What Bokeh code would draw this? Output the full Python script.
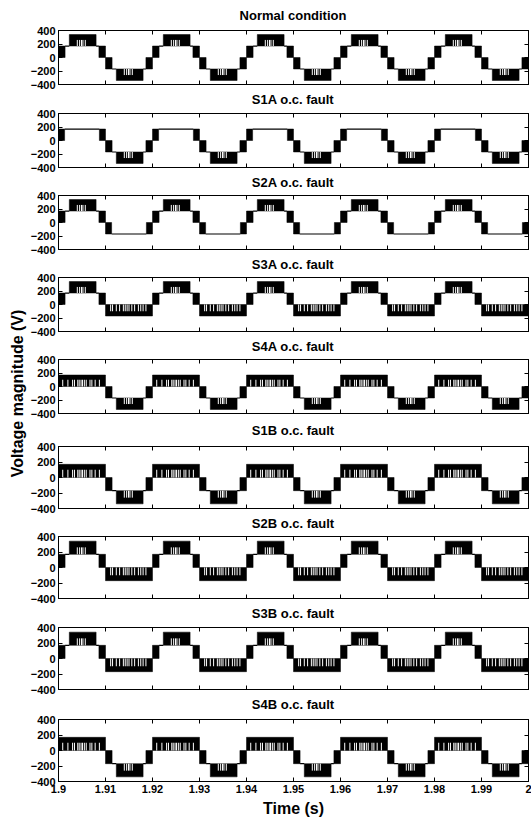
import math
from bokeh.plotting import figure
from bokeh.layouts import column, row
from bokeh.models import Range1d, FixedTicker, LinearAxis, CustomJSTickFormatter, ColumnDataSource
from bokeh.core.properties import value
from bokeh.embed import file_html
from bokeh.resources import INLINE

# ---------------- data ----------------
panel_titles = ["Normal condition", "S1A o.c. fault", "S2A o.c. fault", "S3A o.c. fault",
                "S4A o.c. fault", "S1B o.c. fault", "S2B o.c. fault", "S3B o.c. fault",
                "S4B o.c. fault"]
# shape of the positive / negative half cycle in each panel
pos_half = ["full", "clamp", "full", "full", "low", "low", "full", "full", "low"]
neg_half = ["full", "full", "clamp", "low", "full", "full", "low", "low", "full"]

x_ticks = [1.9, 1.91, 1.92, 1.93, 1.94, 1.95, 1.96, 1.97, 1.98, 1.99, 2.0]
y_ticks = [-400, -200, 0, 200, 400]

t_start = 1.9          # s
period_ms = 20.0       # 50 Hz fundamental
n_periods = 5

# one-period patterns (times in ms inside the period)
# switching bands: (start, end, low level, high level)
pos_full_bands = [(0.0, 1.4, 0, 170), (2.3, 8.0, 170, 340), (8.6, 10.0, 0, 170)]
pos_full_flats = [(1.4, 2.3, 170), (8.0, 8.6, 170)]          # (start, end, level)
pos_full_gap_t = [4.0, 4.5, 4.9, 5.2, 5.7]
pos_full_gap_lv = (170, 260)

neg_full_bands = [(10.0, 11.4, -170, 0), (12.3, 18.0, -340, -170), (18.6, 20.0, -170, 0)]
neg_full_flats = [(11.4, 12.3, -170), (18.0, 18.6, -170)]
neg_full_gap_t = [14.0, 14.5, 14.9, 15.2, 15.7]
neg_full_gap_lv = (-170, -260)

pos_clamp_bands = [(0.0, 1.3, 0, 170), (8.7, 10.0, 0, 170)]
pos_clamp_flats = [(1.3, 8.7, 170)]
pos_clamp_gap_t = []
pos_clamp_gap_lv = (170, 170)

neg_clamp_bands = [(10.0, 11.3, -170, 0), (18.7, 20.0, -170, 0)]
neg_clamp_flats = [(11.3, 18.7, -170)]
neg_clamp_gap_t = []
neg_clamp_gap_lv = (-170, -170)

pos_low_bands = [(0.0, 10.0, 0, 170)]
pos_low_flats = []
pos_low_gap_t = [0.9, 2.0, 3.0, 3.4, 4.1, 4.4, 4.8, 5.1, 5.5, 5.9, 6.7, 7.1, 7.8, 8.7]
pos_low_gap_lv = (0, 100)

neg_low_bands = [(10.0, 20.0, -170, 0)]
neg_low_flats = []
neg_low_gap_t = [11.1, 11.5, 12.3, 13.0, 13.8, 14.2, 14.6, 15.0, 15.6, 16.2, 17.0, 17.5, 18.0, 18.6]
neg_low_gap_lv = (0, -100)

ylabel_text = "Voltage magnitude (V)"
xlabel_text = "Time (s)"

patterns = {
    ("pos", "full"): (pos_full_bands, pos_full_flats, pos_full_gap_t, pos_full_gap_lv),
    ("neg", "full"): (neg_full_bands, neg_full_flats, neg_full_gap_t, neg_full_gap_lv),
    ("pos", "clamp"): (pos_clamp_bands, pos_clamp_flats, pos_clamp_gap_t, pos_clamp_gap_lv),
    ("neg", "clamp"): (neg_clamp_bands, neg_clamp_flats, neg_clamp_gap_t, neg_clamp_gap_lv),
    ("pos", "low"): (pos_low_bands, pos_low_flats, pos_low_gap_t, pos_low_gap_lv),
    ("neg", "low"): (neg_low_bands, neg_low_flats, neg_low_gap_t, neg_low_gap_lv),
}


def panel_sources(ptype, ntype):
    q = dict(left=[], right=[], bottom=[], top=[])
    f = dict(x0=[], x1=[], y=[])
    g = dict(x=[], y0=[], y1=[])
    for k in range(n_periods):
        t0 = t_start + k * period_ms / 1000.0
        for half in (("pos", ptype), ("neg", ntype)):
            bands, flats, gap_t, gap_lv = patterns[half]
            for (s, e, lo, hi) in bands:
                q["left"].append(t0 + s / 1000.0)
                q["right"].append(t0 + e / 1000.0)
                q["bottom"].append(lo)
                q["top"].append(hi)
            for (s, e, lv) in flats:
                f["x0"].append(t0 + s / 1000.0)
                f["x1"].append(t0 + e / 1000.0)
                f["y"].append(lv)
            for t in gap_t:
                g["x"].append(t0 + t / 1000.0)
                g["y0"].append(gap_lv[0])
                g["y1"].append(gap_lv[1])
    return ColumnDataSource(q), ColumnDataSource(f), ColumnDataSource(g)


# ---------------- layout (page pixels, page has no margin) ----------------
FONT = "Liberation Sans"
frame_tops = [30, 113, 195, 277, 359, 446, 536, 627, 719]
frame_hs = [54, 54, 54, 54, 54, 62, 62, 62, 62]
title_centers = [15, 98, 181, 263, 345, 430, 521, 611, 703]
page_h = 822
frame_w = 470
left_border = 30
right_border = 3
ylab_w = 27
ylab_center = (17, 393)
pad_top = 6
pad_bottom = 7
fig_w = left_border + frame_w + right_border


def style_axis(ax, labels):
    ax.axis_line_color = "black"
    ax.axis_line_width = 1
    ax.major_tick_in = 4
    ax.major_tick_out = 0
    ax.major_tick_line_color = "black"
    ax.minor_tick_line_color = None
    if labels:
        ax.major_label_text_font = FONT
        ax.major_label_text_font_style = "bold"
        ax.major_label_text_font_size = "11px"
        ax.major_label_text_color = "black"
        ax.major_label_standoff = 3
    else:
        ax.major_label_text_font_size = "0px"
        ax.major_label_text_color = None
        ax.major_label_standoff = 0


def plain(p):
    p.axis.visible = False
    p.xgrid.visible = False
    p.ygrid.visible = False
    p.outline_line_color = None
    p.background_fill_color = "white"
    p.border_fill_color = "white"


items = []
prev_bottom = 0
for i, title in enumerate(panel_titles):
    last = (i == len(panel_titles) - 1)
    canvas_top = frame_tops[i] - pad_top
    frame_bottom = frame_tops[i] + frame_hs[i]
    bot_b = (page_h - frame_bottom) if last else pad_bottom

    # title strip
    t_top, t_bot = prev_bottom, canvas_top
    half = 7.5
    if t_bot - t_top >= 2 * half:
        cy = min(max(title_centers[i], t_top + half), t_bot - half)
    else:
        cy = (t_top + t_bot) / 2
    tf = figure(width=fig_w, height=t_bot - t_top,
                x_range=Range1d(x_ticks[0], x_ticks[-1]), y_range=Range1d(t_bot, t_top),
                output_backend="svg", toolbar_location=None,
                min_border_left=left_border, min_border_right=right_border,
                min_border_top=0, min_border_bottom=0)
    plain(tf)
    tf.text(x=[(x_ticks[0] + x_ticks[-1]) / 2], y=[cy], text=[title],
            text_align="center", text_baseline="middle",
            text_font=value(FONT), text_font_style="bold", text_font_size="13px",
            text_color="black")
    items.append(tf)

    # panel
    p = figure(frame_width=frame_w, frame_height=frame_hs[i],
               x_range=Range1d(x_ticks[0], x_ticks[-1]), y_range=Range1d(y_ticks[0], y_ticks[-1]),
               output_backend="svg", toolbar_location=None,
               min_border_left=left_border, min_border_right=right_border,
               min_border_top=pad_top, min_border_bottom=bot_b)
    p.xgrid.visible = False
    p.ygrid.visible = False
    p.outline_line_color = "black"
    p.outline_line_alpha = 1.0
    p.background_fill_color = "white"
    p.border_fill_color = "white"

    p.yaxis.ticker = FixedTicker(ticks=y_ticks)
    style_axis(p.yaxis[0], True)
    p.xaxis.ticker = FixedTicker(ticks=x_ticks)
    style_axis(p.xaxis[0], last)
    if last:
        p.xaxis.formatter = CustomJSTickFormatter(code="return String(Number(tick.toFixed(2)));")
        p.xaxis.axis_label = xlabel_text
        p.xaxis.axis_label_text_font = FONT
        p.xaxis.axis_label_text_font_style = "bold"
        p.xaxis.axis_label_text_font_size = "16px"
        p.xaxis.axis_label_text_color = "black"
        p.xaxis.axis_label_standoff = 4

    top_ax = LinearAxis(ticker=FixedTicker(ticks=x_ticks))
    style_axis(top_ax, False)
    p.add_layout(top_ax, "above")
    right_ax = LinearAxis(ticker=FixedTicker(ticks=y_ticks))
    style_axis(right_ax, False)
    p.add_layout(right_ax, "right")

    qs, fs, gs = panel_sources(pos_half[i], neg_half[i])
    p.quad(left="left", right="right", bottom="bottom", top="top", source=qs,
           fill_color="black", line_color="black", line_width=0.5)
    p.segment(x0="x0", y0="y", x1="x1", y1="y", source=fs, line_color="black", line_width=1.2)
    p.segment(x0="x", y0="y0", x1="x", y1="y1", source=gs, line_color="white", line_width=1)
    items.append(p)
    prev_bottom = frame_bottom + bot_b

ylab = figure(width=ylab_w, height=page_h,
              x_range=Range1d(0, ylab_w), y_range=Range1d(page_h, 0),
              output_backend="svg", toolbar_location=None, min_border=0)
plain(ylab)
ylab.text(x=[ylab_center[0]], y=[ylab_center[1]], text=[ylabel_text], angle=math.pi / 2,
          text_align="center", text_baseline="middle",
          text_font=value(FONT), text_font_style="bold", text_font_size="16px",
          text_color="black")

layout = row(ylab, column(*items))
open("out.html", "w").write(file_html(layout, INLINE))
